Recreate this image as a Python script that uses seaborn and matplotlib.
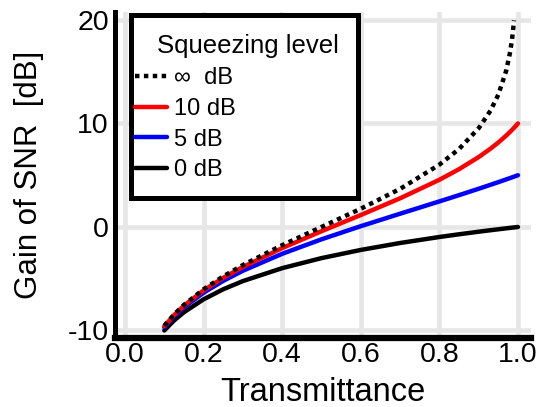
import matplotlib
matplotlib.use("Agg")
import matplotlib.pyplot as plt
import seaborn as sns
import pandas as pd
from matplotlib.lines import Line2D
from matplotlib.patches import Rectangle

transmittance = [0.1, 0.125, 0.15, 0.2, 0.25, 0.3, 0.4, 0.5, 0.6, 0.7, 0.8,
                 0.85, 0.9, 0.93, 0.95, 0.97, 0.98, 0.99, 1.0]
gain_0db = [-10.0, -9.031, -8.239, -6.990, -6.021, -5.229, -3.979, -3.010, -2.218,
            -1.549, -0.969, -0.706, -0.458, -0.315, -0.223, -0.132, -0.088, -0.044, 0.0]
gain_5db = [-9.693, -8.643, -7.769, -6.351, -5.206, -4.232, -2.592, -1.193, 0.075,
            1.280, 2.470, 3.074, 3.692, 4.073, 4.331, 4.595, 4.728, 4.863, 5.0]
gain_10db = [-9.590, -8.513, -7.609, -6.128, -4.914, -3.862, -2.041, -0.414, 1.154,
             2.769, 4.559, 5.584, 6.755, 7.563, 8.164, 8.830, 9.193, 9.582, 10.0]
transmittance_inf = [0.1, 0.125, 0.15, 0.2, 0.25, 0.3, 0.4, 0.5, 0.6, 0.7, 0.8,
                     0.85, 0.9, 0.93, 0.95, 0.97, 0.98, 0.985, 0.99]
gain_inf = [-9.542, -8.451, -7.533, -6.021, -4.771, -3.680, -1.761, 0.0, 1.761,
            3.680, 6.021, 7.533, 9.542, 11.234, 12.788, 15.096, 16.902, 18.173, 19.956]

labels = ["\u221e  dB", "10 dB", "5 dB", "0 dB"]
legend_title = "Squeezing level"
colors = ["black", "#ff0000", "#0000ff", "black"]
xticks = [0.0, 0.2, 0.4, 0.6, 0.8, 1.0]
yticks = [-10, 0, 10, 20]

sns.set_theme(style="white")
plt.rcParams["font.family"] = ["Liberation Sans", "DejaVu Sans"]
plt.rcParams["axes.unicode_minus"] = False

W, H = 542, 407
fig = plt.figure(figsize=(W / 100, H / 100), dpi=100)
ax = fig.add_axes([114.5 / W, 1 - 337.5 / H, (531 - 114.5) / W, (337.5 - 12) / H])

lw = 3.2
df0 = pd.DataFrame({"T": transmittance, "G": gain_0db})
df5 = pd.DataFrame({"T": transmittance, "G": gain_5db})
df10 = pd.DataFrame({"T": transmittance, "G": gain_10db})
dfi = pd.DataFrame({"T": transmittance_inf, "G": gain_inf})

sns.lineplot(data=df0, x="T", y="G", ax=ax, color=colors[3], lw=lw, zorder=3)
sns.lineplot(data=df5, x="T", y="G", ax=ax, color=colors[2], lw=lw, zorder=4)
sns.lineplot(data=df10, x="T", y="G", ax=ax, color=colors[1], lw=lw, zorder=5)
sns.lineplot(data=dfi, x="T", y="G", ax=ax, color=colors[0], lw=lw, zorder=6,
             linestyle=(0, (1, 1)))

ax.set_xlim(-0.0267, 1.0331)
ax.set_ylim(-10.68, 20.77)
ax.set_xticks(xticks)
ax.set_xticklabels([f"{v:.1f}" for v in xticks])
ax.set_yticks(yticks)
ax.set_yticklabels([str(v) for v in yticks])

ax.grid(True, color="#e6e6e6", lw=3.3, zorder=0)
ax.set_axisbelow(True)
for s in ["top", "right"]:
    ax.spines[s].set_visible(False)
ax.spines["left"].set_linewidth(3.6)
ax.spines["bottom"].set_linewidth(4.5)
for s in ["left", "bottom"]:
    ax.spines[s].set_color("black")

ax.tick_params(axis="both", direction="in", length=4.5, width=3.5, color="black",
               labelsize=20.5, labelcolor="black")
ax.tick_params(axis="x", pad=3.5)
ax.tick_params(axis="y", pad=4)

ax.set_xlabel("Transmittance", fontsize=23.5, color="black", labelpad=6)
ax.set_ylabel("Gain of SNR  [dB]", fontsize=22.5, color="black", labelpad=17)

# legend frame
fig.add_artist(Rectangle((130.5 / W, 1 - 197.5 / H), 227 / W, 183 / H,
                         transform=fig.transFigure, facecolor="white",
                         edgecolor="black", linewidth=3.6, zorder=2))
fig.text(247.5 / W, 1 - 53 / H, legend_title, ha="center", va="baseline",
         fontsize=18.5, color="black", zorder=3)

handles = [
    Line2D([], [], color=colors[0], lw=lw, linestyle=(0, (1, 1))),
    Line2D([], [], color=colors[1], lw=lw),
    Line2D([], [], color=colors[2], lw=lw),
    Line2D([], [], color=colors[3], lw=lw),
]
leg = fig.legend(handles, labels, loc="upper left",
                 bbox_to_anchor=(135 / W, 1 - 67.5 / H),
                 bbox_transform=fig.transFigure, borderaxespad=0, borderpad=0,
                 fontsize=17, frameon=False,
                 handlelength=1.36, handletextpad=0.3, labelspacing=0.36)
leg.set_zorder(5)
for t in leg.get_texts():
    t.set_color("black")

fig.savefig("out.png", dpi=100)
